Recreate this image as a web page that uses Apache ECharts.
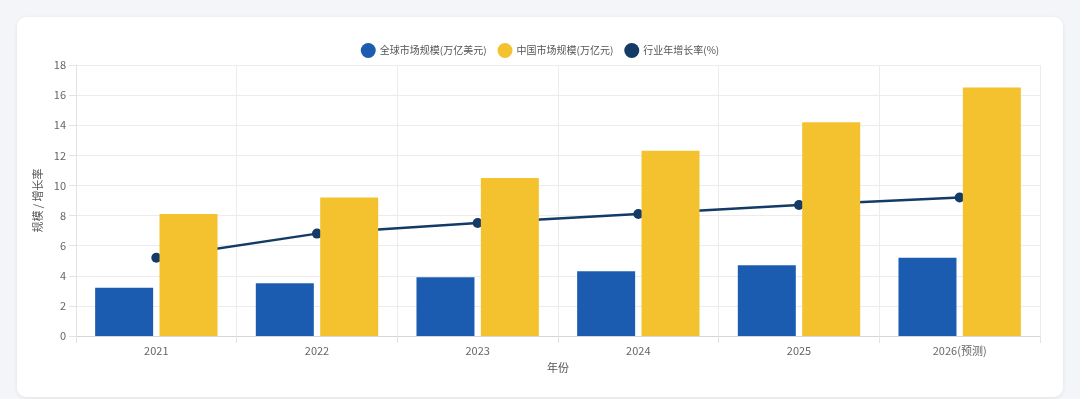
<!DOCTYPE html>
<html><head><meta charset="utf-8">
<script src="https://cdn.jsdelivr.net/npm/echarts@6/dist/echarts.min.js"></script>
<style>
html,body{margin:0;padding:0;background:#f3f5f8;width:1080px;height:399px;overflow:hidden;}
#card{position:absolute;left:17px;top:17px;width:1046px;height:380px;background:#fff;border-radius:9px;box-shadow:0 1px 4px rgba(0,0,0,0.08);}
#chart{width:1046px;height:380px;}
</style></head>
<body><div id="card"><div id="chart"></div></div>
<script>
const categories = ['2021','2022','2023','2024','2025','2026(预测)'];
const globalMarket = [3.2, 3.5, 3.9, 4.3, 4.7, 5.2];
const chinaMarket = [8.1, 9.2, 10.5, 12.3, 14.2, 16.5];
const growthRate = [5.2, 6.8, 7.5, 8.1, 8.7, 9.2];
const seriesNames = ['全球市场规模(万亿美元)','中国市场规模(万亿元)','行业年增长率(%)'];

const font = '"Noto Sans CJK SC", "Noto Sans", sans-serif';
const chart = echarts.init(document.getElementById('chart'), null, {renderer:'canvas'});
chart.setOption({
  animation:false,
  textStyle:{fontFamily:font},
  legend:{
    top:21, left:'center', icon:'circle', itemWidth:15, itemHeight:15, itemGap:11,
    textStyle:{fontSize:10, color:'#555', fontFamily:font, padding:[0,0,0,-1]},
    data:seriesNames
  },
  grid:{left:59, right:23, top:48, bottom:61, containLabel:false},
  xAxis:{
    type:'category', data:categories, boundaryGap:true,
    name:'年份', nameLocation:'middle', nameGap:26,
    nameTextStyle:{fontSize:11, color:'#555', fontFamily:font},
    axisLine:{lineStyle:{color:'#d6d6d6'}},
    axisTick:{show:true, length:7, lineStyle:{color:'#e3e3e3'}},
    axisLabel:{fontSize:11, color:'#666', margin:9},
    splitLine:{show:true, lineStyle:{color:'#ececec'}}
  },
  yAxis:{
    type:'value', min:0, max:18, interval:2,
    name:'规模 / 增长率', nameLocation:'middle', nameGap:24, nameRotate:90,
    nameTextStyle:{fontSize:11, color:'#555', fontFamily:font},
    axisLine:{show:true, lineStyle:{color:'#e3e3e3'}},
    axisTick:{show:true, length:7, lineStyle:{color:'#e3e3e3'}},
    axisLabel:{fontSize:11, color:'#666', margin:10},
    splitLine:{show:true, lineStyle:{color:'#ececec'}}
  },
  series:[
    {name:seriesNames[0], type:'bar', data:globalMarket, barWidth:58, barGap:'11%',
     itemStyle:{color:'#1b5cb0'}, z:3},
    {name:seriesNames[1], type:'bar', data:chinaMarket, barWidth:58,
     itemStyle:{color:'#f4c22f'}, z:3},
    {name:seriesNames[2], type:'line', data:growthRate, symbol:'circle', symbolSize:10,
     lineStyle:{color:'#143a66', width:2.5}, itemStyle:{color:'#143a66'}, z:2}
  ]
});
</script></body></html>
